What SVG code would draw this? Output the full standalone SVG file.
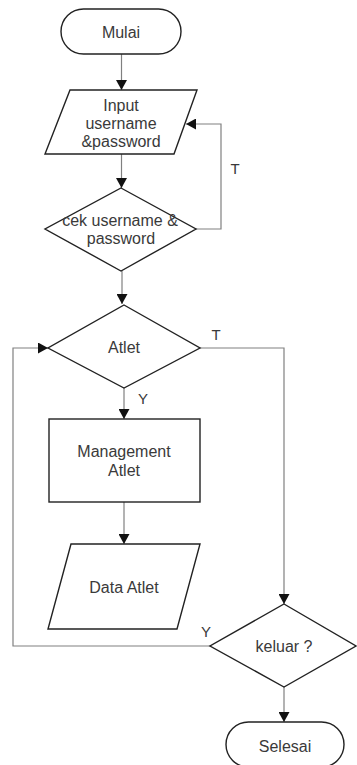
<svg xmlns="http://www.w3.org/2000/svg" width="357" height="765" viewBox="0 0 357 765">
<style>
.s{fill:#fff;stroke:#222;stroke-width:1.4}
.c{fill:none;stroke:#808080;stroke-width:1.2}
.t{font-family:"Liberation Sans",Arial,sans-serif;font-size:16px;fill:#3a3a3a;text-anchor:middle}
.l{font-family:"Liberation Sans",Arial,sans-serif;font-size:15px;fill:#3a3a3a}
</style>
<defs>
<marker id="ah" markerWidth="10" markerHeight="11" refX="10" refY="5.5" orient="auto" markerUnits="userSpaceOnUse">
<path d="M0,0 L10,5.5 L0,11 Z" fill="#111"/>
</marker>
</defs>
<rect width="357" height="765" fill="#fff"/>
<g id="connectors">
<path class="c" d="M121.5,54 V90" marker-end="url(#ah)"/>
<path class="c" d="M121.5,154 V188" marker-end="url(#ah)"/>
<path class="c" d="M196,229 H221 V124 H186" marker-end="url(#ah)"/>
<path class="c" d="M122,271 V304" marker-end="url(#ah)"/>
<path class="c" d="M124,388 V419" marker-end="url(#ah)"/>
<path class="c" d="M124,502 V544" marker-end="url(#ah)"/>
<path class="c" d="M200,348 H284 V604" marker-end="url(#ah)"/>
<path class="c" d="M210,646 H13 V348 H48" marker-end="url(#ah)"/>
<path class="c" d="M284,687 V722" marker-end="url(#ah)"/>
<text class="l" x="235" y="174" text-anchor="middle">T</text>
<text class="l" x="216" y="340" text-anchor="middle">T</text>
<text class="l" x="143" y="404" text-anchor="middle">Y</text>
<text class="l" x="206" y="637" text-anchor="middle">Y</text>
</g>
<g id="mulai">
<rect class="s" x="61" y="9" width="120" height="45" rx="22.5"/>
<text class="t" x="121" y="38">Mulai</text>
</g>
<g id="input">
<polygon class="s" points="70,90 197,90 174,154 45,154"/>
<text class="t" x="121" y="111">Input</text>
<text class="t" x="121" y="129">username</text>
<text class="t" x="121" y="147">&amp;password</text>
</g>
<g id="cek">
<polygon class="s" points="121,188 196,229 121,271 45,229"/>
<text class="t" x="120" y="226">cek username &amp;</text>
<text class="t" x="121" y="244">password</text>
</g>
<g id="atlet">
<polygon class="s" points="124,305 200,348 124,388 48,348"/>
<text class="t" x="124" y="353">Atlet</text>
</g>
<g id="management">
<rect class="s" x="49" y="419" width="151" height="83"/>
<text class="t" x="124" y="457">Management</text>
<text class="t" x="124" y="476">Atlet</text>
</g>
<g id="data">
<polygon class="s" points="71,544 200,544 177,629 48,629"/>
<text class="t" x="124" y="593">Data Atlet</text>
</g>
<g id="keluar">
<polygon class="s" points="284,604 356,646 284,687 210,646"/>
<text class="t" x="284" y="652">keluar ?</text>
</g>
<g id="selesai">
<rect class="s" x="226" y="722" width="118" height="45" rx="22.5"/>
<text class="t" x="285" y="752">Selesai</text>
</g>
</svg>
